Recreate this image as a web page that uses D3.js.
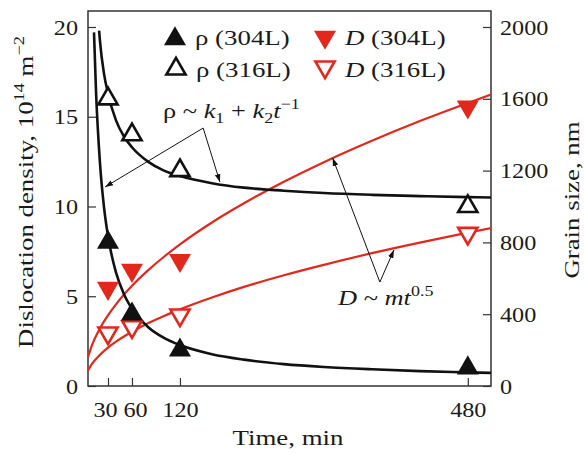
<!DOCTYPE html>
<html>
<head>
<meta charset="utf-8">
<script src="https://cdn.jsdelivr.net/npm/d3@7"></script>
<style>
  body { margin: 0; background: #fff; }
  text { font-family: 'Liberation Serif', 'Times New Roman', serif; fill: #1a1a1a; }
  .axes text { font-size: 22px; }
  .axes line { stroke: #333; stroke-width: 1.2; }
</style>
</head>
<body>
<script>
const W = 584, H = 454;
const red = '#e2281d', black = '#111';

// measured points
const times = [30, 60, 120, 480];
const rho304 = [8, 4, 2, 1];
const rho316 = [16, 14, 12, 10];
const grain304 = [545, 645, 700, 1555];
const grain316 = [295, 330, 395, 850];

// fitted curves: [time, value]
const rhoFit304 = [[12.5, 19.7], [15, 16.45], [20, 12.4], [25, 9.97], [30, 8.35], [40, 6.33], [50, 5.11], [60, 4.3],
    [80, 3.29], [100, 2.68], [120, 2.28], [160, 1.77], [200, 1.47], [250, 1.22], [300, 1.06], [360, 0.93],
    [420, 0.83], [480, 0.76], [509, 0.73]];
const rhoFit316 = [[18.9, 19.8], [20, 19.2], [25, 17.4], [30, 16.3], [40, 14.8], [50, 13.9], [60, 13.3], [80, 12.5],
    [100, 12.0], [120, 11.7], [160, 11.3], [200, 11.05], [250, 10.88], [300, 10.75], [360, 10.65], [420, 10.58],
    [480, 10.52], [509, 10.5]];
const grainFit304 = [[5, 161], [10, 228], [20, 322], [30, 394], [40, 455], [60, 558], [80, 644], [100, 720],
    [120, 789], [160, 911], [200, 1018], [250, 1138], [300, 1247], [360, 1366], [420, 1476], [480, 1577], [509, 1624]];
const grainFit316 = [[5, 87], [10, 123], [20, 174], [30, 214], [40, 247], [60, 302], [80, 349], [100, 390],
    [120, 427], [160, 493], [200, 552], [250, 617], [300, 675], [360, 740], [420, 799], [480, 854], [509, 880]];

const xTicks = [30, 60, 120, 480];
const yLeftTicks = [0, 5, 10, 15, 20];
const yRightTicks = [0, 400, 800, 1200, 1600, 2000];

const frame = { left: 88, right: 491, top: 11, bottom: 386 };

const x = d3.scaleLinear().domain([5, 509]).range([frame.left, frame.right]);
const yL = d3.scaleLinear().domain([0, 20]).range([frame.bottom, 27]);
const yR = d3.scaleLinear().domain([0, 2000]).range([frame.bottom, 27]);

// the original lettering is a little wider than Liberation Serif
function stretch (sel, k) {
    sel.each(function () {
        const n = this.getComputedTextLength();
        d3.select(this).attr('textLength', n * k).attr('lengthAdjust', 'spacingAndGlyphs');
    });
}

const svg = d3.select('body').append('svg')
    .attr('width', W).attr('height', H);

// axes (ticks pointing inward)
const xAxis = svg.append('g')
    .attr('class', 'axes')
    .attr('transform', 'translate(0,' + frame.bottom + ')')
    .call(d3.axisBottom(x).tickValues(xTicks).tickFormat(d3.format('d')).tickSize(-8).tickPadding(15))
    .call(g => g.select('.domain').remove());
// 30 and 60 labels are nudged apart as in the original
xAxis.selectAll('.tick text').attr('dx', d => d === 30 ? -3 : d === 60 ? 3 : 0);
svg.append('g')
    .attr('class', 'axes')
    .attr('transform', 'translate(' + frame.left + ',0)')
    .call(d3.axisLeft(yL).tickValues(yLeftTicks).tickFormat(d3.format('d')).tickSize(-8).tickPadding(10))
    .call(g => g.select('.domain').remove());
svg.append('g')
    .attr('class', 'axes')
    .attr('transform', 'translate(' + frame.right + ',0)')
    .call(d3.axisRight(yR).tickValues(yRightTicks).tickFormat(d3.format('d')).tickSize(-8).tickPadding(9))
    .call(g => g.select('.domain').remove());
stretch(svg.selectAll('.axes .tick text'), 1.1);

svg.append('rect')
    .attr('x', frame.left).attr('y', frame.top)
    .attr('width', frame.right - frame.left).attr('height', frame.bottom - frame.top)
    .attr('fill', 'none').attr('stroke', '#333').attr('stroke-width', 1.5);

// axis titles
const titles = svg.append('g').style('font-size', '22px');
titles.append('text')
    .attr('x', 288).attr('y', 445)
    .attr('text-anchor', 'middle')
    .text('Time, min');

const leftTitle = titles.append('text')
    .attr('transform', 'translate(33,192) rotate(-90)')
    .attr('text-anchor', 'middle');
leftTitle.append('tspan').text('Dislocation density, 10');
leftTitle.append('tspan').attr('dy', -9).style('font-size', '15px').text('14');
leftTitle.append('tspan').attr('dy', 9).text(' m');
leftTitle.append('tspan').attr('dy', -9).style('font-size', '15px').text('\u22122');

titles.append('text')
    .attr('transform', 'translate(579,200) rotate(-90)')
    .attr('text-anchor', 'middle')
    .text('Grain size, nm');
stretch(titles.selectAll('text'), 1.22);

// fitted curves
svg.append('clipPath').attr('id', 'plot')
    .append('rect')
    .attr('x', frame.left).attr('y', frame.top)
    .attr('width', frame.right - frame.left).attr('height', frame.bottom - frame.top);

const lineL = d3.line().x(d => x(d[0])).y(d => yL(d[1])).curve(d3.curveMonotoneX);
const lineR = d3.line().x(d => x(d[0])).y(d => yR(d[1])).curve(d3.curveMonotoneX);

const curves = svg.append('g').attr('clip-path', 'url(#plot)');
curves.append('path').attr('d', lineR(grainFit304))
    .attr('fill', 'none').attr('stroke', red).attr('stroke-width', 2.2);
curves.append('path').attr('d', lineR(grainFit316))
    .attr('fill', 'none').attr('stroke', red).attr('stroke-width', 2.2);
curves.append('path').attr('d', lineL(rhoFit304))
    .attr('fill', 'none').attr('stroke', black).attr('stroke-width', 2.6);
curves.append('path').attr('d', lineL(rhoFit316))
    .attr('fill', 'none').attr('stroke', black).attr('stroke-width', 2.6);

// markers
const triFilled = d3.symbol().type(d3.symbolTriangle).size(210);
const triOpen = d3.symbol().type(d3.symbolTriangle).size(160);

function markers (vals, scale, filled, color, down) {
    svg.append('g').selectAll('path')
        .data(times.map((t, i) => [t, vals[i]]))
        .enter().append('path')
        .attr('d', filled ? triFilled : triOpen)
        .attr('transform', d => 'translate(' + x(d[0]) + ',' + scale(d[1]) + ')' + (down ? ' rotate(180)' : ''))
        .attr('fill', filled ? color : '#fff')
        .attr('stroke', color)
        .attr('stroke-width', filled ? 0 : 2.6);
}
markers(grain316, yR, false, red, true);
markers(grain304, yR, true, red, true);
markers(rho316, yL, false, black, false);
markers(rho304, yL, true, black, false);

// legend
const legendRows = [
    { sx: 175, sy: 39, filled: true, color: black, down: false, sym: '\u03c1', label: ' (304L)', ty: 45, italic: false },
    { sx: 176, sy: 69, filled: false, color: black, down: false, sym: '\u03c1', label: ' (316L)', ty: 77, italic: false },
    { sx: 325, sy: 37, filled: true, color: red, down: true, sym: 'D', label: ' (304L)', ty: 45, italic: true },
    { sx: 325, sy: 67, filled: false, color: red, down: true, sym: 'D', label: ' (316L)', ty: 77, italic: true }
];
const legend = svg.append('g').style('font-size', '22px');
legendRows.forEach(r => {
    legend.append('path')
        .attr('d', r.filled ? triFilled : triOpen)
        .attr('transform', 'translate(' + r.sx + ',' + r.sy + ')' + (r.down ? ' rotate(180)' : ''))
        .attr('fill', r.filled ? r.color : '#fff')
        .attr('stroke', r.color)
        .attr('stroke-width', r.filled ? 0 : 2.6);
    const t = legend.append('text')
        .attr('x', r.sx + 20).attr('y', r.ty);
    t.append('tspan').style('font-style', r.italic ? 'italic' : 'normal').text(r.sym);
    t.append('tspan').text(r.label);
});
stretch(legend.selectAll('text'), 1.22);

// annotations (in data coordinates of left axis)
svg.append('defs').append('marker')
    .attr('id', 'arrow')
    .attr('viewBox', '0 0 10 10')
    .attr('refX', 10).attr('refY', 5)
    .attr('markerWidth', 8).attr('markerHeight', 8)
    .attr('markerUnits', 'userSpaceOnUse')
    .attr('orient', 'auto')
    .append('path').attr('d', 'M0,1.5 L10,5 L0,8.5 Z').attr('fill', black);

const arrows = [
    { from: [149, 14.37], to: [26.4, 11.09] },
    { from: [149, 14.37], to: [170, 11.36] },
    { from: [370, 5.79], to: [311, 12.7] },
    { from: [370, 5.79], to: [387.6, 7.58] }
];
svg.append('g').selectAll('line')
    .data(arrows)
    .enter().append('line')
    .attr('x1', d => x(d.from[0])).attr('y1', d => yL(d.from[1]))
    .attr('x2', d => x(d.to[0])).attr('y2', d => yL(d.to[1]))
    .attr('stroke', black).attr('stroke-width', 1)
    .attr('marker-end', 'url(#arrow)');

const notes = svg.append('g').style('font-size', '22px');
const f1 = notes.append('text')
    .attr('x', 163).attr('y', 118);
f1.append('tspan').text('\u03c1 ~ ');
f1.append('tspan').style('font-style', 'italic').text('k');
f1.append('tspan').attr('dy', 5).style('font-size', '15px').text('1');
f1.append('tspan').attr('dy', -5).text(' + ');
f1.append('tspan').style('font-style', 'italic').text('k');
f1.append('tspan').attr('dy', 5).style('font-size', '15px').text('2');
f1.append('tspan').attr('dy', -5).style('font-style', 'italic').text('t');
f1.append('tspan').attr('dy', -9).style('font-size', '15px').text('\u22121');

const f2 = notes.append('text')
    .attr('x', 338).attr('y', 305);
f2.append('tspan').style('font-style', 'italic').text('D');
f2.append('tspan').text(' ~ ');
f2.append('tspan').style('font-style', 'italic').text('mt');
f2.append('tspan').attr('dy', -9).style('font-size', '15px').text('0.5');
stretch(notes.selectAll('text'), 1.2);
</script>
</body>
</html>
